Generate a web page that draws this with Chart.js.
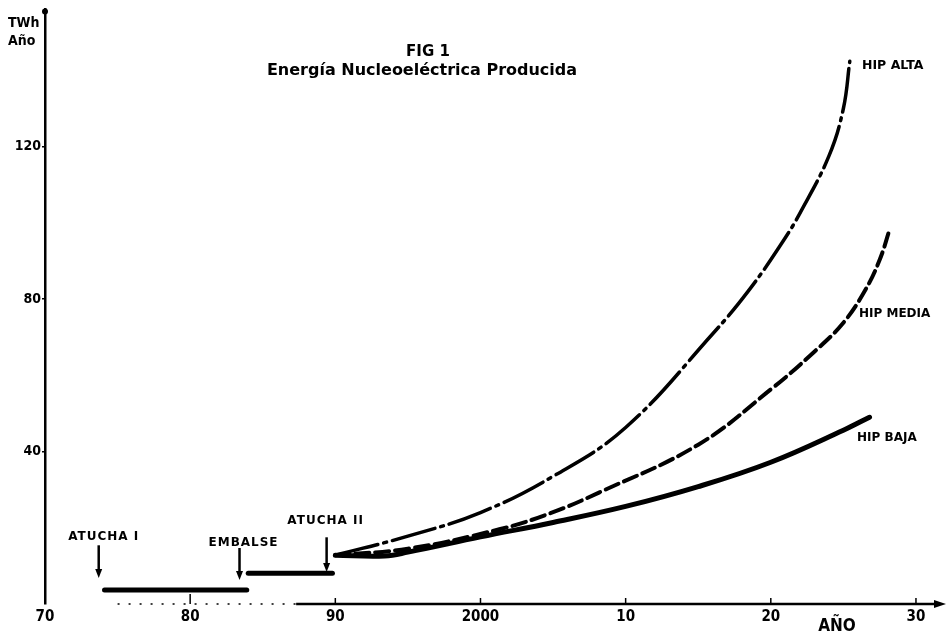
<!DOCTYPE html>
<html>
<head>
<meta charset="utf-8">
<script src="https://cdn.jsdelivr.net/npm/chart.js@4"></script>
<style>
  html, body { margin: 0; padding: 0; background: #fff; }
  #wrap { position: relative; width: 946px; height: 640px; }
</style>
</head>
<body>
<div id="wrap"><canvas id="fig1"></canvas></div>
<script>
// años (eje x) y TWh/año (eje y)
const altaYears  = [1990, 1995, 2000, 2005, 2010, 2016, 2018.55, 2020.83, 2022, 2024, 2025, 2025.44];
const altaTWh    = [12.8, 17.8, 24.0, 33.5, 46.3, 70.9, 82.6, 95.1, 102.5, 117.5, 130.0, 142.4];
const mediaYears = [1990, 1995, 2001.3, 2004.8, 2008.2, 2015, 2020, 2023, 2025, 2026.5, 2027.5, 2028.2];
const mediaTWh   = [12.8, 14.5, 19.6, 23.8, 29.3, 41.8, 56.3, 66.2, 73.8, 82.3, 90.3, 98.4];
const bajaYears  = [1990, 1993.4, 1995, 2000, 2005, 2010, 2015, 2020, 2025, 2026.8];
const bajaTWh    = [12.8, 12.6, 13.6, 17.6, 21.4, 25.6, 30.8, 37.2, 45.6, 49.0];

// tramos de centrales existentes
const atucha1Years = [1974.1, 1983.9];
const atucha1TWh   = [3.7, 3.7];
const embalseYears = [1984.0, 1989.8];
const embalseTWh   = [8.1, 8.1];

// flechas de entrada en servicio
const arrowLabels = ['ATUCHA I', 'EMBALSE', 'ATUCHA II'];
const arrowYears  = [1973.7, 1983.4, 1989.4];
const arrowTop    = [15.4, 14.7, 17.5];
const arrowTip    = [6.8, 6.3, 8.4];

const xTicks = [1970, 1980, 1990, 2000, 2010, 2020, 2030];
const xTickLabels = ['70', '80', '90', '2000', '10', '20', '30'];
const yTicks = [40, 80, 120];

const curveLabels = ['HIP ALTA', 'HIP MEDIA', 'HIP BAJA'];

const COND = '"DejaVu Sans Condensed", "DejaVu Sans", sans-serif';
const WIDE = '"DejaVu Sans", sans-serif';

function pts(xs, ys) {
    return xs.map((x, i) => ({ x: x, y: ys[i] }));
}

// ejes, textos y flechas dibujados sobre el gráfico
const annotations = {
    id: 'annotations',
    afterDraw(chart) {
        const ctx = chart.ctx;
        const xs = chart.scales.x;
        const ys = chart.scales.y;
        const area = chart.chartArea;
        const y0 = area.bottom;
        ctx.save();
        ctx.fillStyle = '#000';
        ctx.strokeStyle = '#000';

        // eje x: tramo punteado al principio, luego continuo
        ctx.lineWidth = 1.5;
        ctx.setLineDash([2, 9]);
        ctx.beginPath();
        ctx.moveTo(xs.getPixelForValue(1975), y0);
        ctx.lineTo(xs.getPixelForValue(1987.5), y0);
        ctx.stroke();
        ctx.setLineDash([]);
        ctx.lineWidth = 2.5;
        ctx.beginPath();
        ctx.moveTo(xs.getPixelForValue(1987.3), y0);
        ctx.lineTo(area.right - 6, y0);
        ctx.stroke();
        ctx.beginPath();
        ctx.moveTo(area.right + 1, y0);
        ctx.lineTo(area.right - 11, y0 - 4);
        ctx.lineTo(area.right - 11, y0 + 4);
        ctx.closePath();
        ctx.fill();
        // marcas de las décadas hacia arriba
        ctx.lineWidth = 1.5;
        xTicks.slice(1).forEach(v => {
            const px = xs.getPixelForValue(v);
            ctx.beginPath();
            ctx.moveTo(px, y0);
            ctx.lineTo(px, y0 - (v === 1980 ? 10 : 6));
            ctx.stroke();
        });
        // punta del eje y
        ctx.beginPath();
        ctx.arc(area.left, area.top + 2, 3, 0, Math.PI * 2);
        ctx.fill();

        // flechas
        ctx.lineWidth = 2.5;
        arrowYears.forEach((yr, i) => {
            const px = xs.getPixelForValue(yr);
            const top = ys.getPixelForValue(arrowTop[i]);
            const tip = ys.getPixelForValue(arrowTip[i]);
            ctx.beginPath();
            ctx.moveTo(px, top);
            ctx.lineTo(px, tip - 6);
            ctx.stroke();
            ctx.beginPath();
            ctx.moveTo(px, tip);
            ctx.lineTo(px - 3.5, tip - 9);
            ctx.lineTo(px + 3.5, tip - 9);
            ctx.closePath();
            ctx.fill();
        });
        ctx.font = 'bold 12px ' + WIDE;
        ctx.letterSpacing = '1px';
        ctx.textAlign = 'center';
        ctx.textBaseline = 'bottom';
        ctx.fillText(arrowLabels[0], xs.getPixelForValue(arrowYears[0]) + 5, ys.getPixelForValue(arrowTop[0]) - 2);
        ctx.fillText(arrowLabels[1], xs.getPixelForValue(arrowYears[1]) + 4, ys.getPixelForValue(arrowTop[1]) + 1);
        ctx.fillText(arrowLabels[2], xs.getPixelForValue(arrowYears[2]) - 1, ys.getPixelForValue(arrowTop[2]) - 10);
        ctx.letterSpacing = '0px';

        // nombres de las curvas
        ctx.textAlign = 'left';
        ctx.textBaseline = 'middle';
        ctx.font = 'bold 12.5px ' + WIDE;
        ctx.fillText(curveLabels[0], 862, 66);
        ctx.font = 'bold 12px ' + WIDE;
        ctx.fillText(curveLabels[1], 859, 314);
        ctx.fillText(curveLabels[2], 857, 438);

        // título
        ctx.textAlign = 'center';
        ctx.font = 'bold 15px ' + WIDE;
        ctx.fillText('FIG 1', 428, 52);
        ctx.font = 'bold 16px ' + WIDE;
        ctx.fillText('Energía Nucleoeléctrica Producida', 422, 71);

        // unidades
        ctx.textAlign = 'left';
        ctx.font = 'bold 14px ' + COND;
        ctx.fillText('TWh', 8, 23);
        ctx.fillText('Año', 8, 41);

        // etiqueta del eje x
        ctx.textAlign = 'center';
        ctx.font = 'bold 17px ' + COND;
        ctx.fillText('AÑO', 837, 627);
        ctx.restore();
    }
};

const ctx = document.getElementById('fig1').getContext('2d');
new Chart(ctx, {
    type: 'line',
    data: {
        datasets: [{
            label: 'HIP ALTA',
            data: pts(altaYears, altaTWh),
            borderColor: '#000',
            borderWidth: 3.5,
            borderDash: [44, 6, 3, 6],
            tension: 0.4
        }, {
            label: 'HIP MEDIA',
            data: pts(mediaYears, mediaTWh),
            borderColor: '#000',
            borderWidth: 4,
            borderDash: [14, 6],
            tension: 0.4
        }, {
            label: 'HIP BAJA',
            data: pts(bajaYears, bajaTWh),
            borderColor: '#000',
            borderWidth: 5,
            tension: 0.4
        }, {
            label: 'ATUCHA I',
            data: pts(atucha1Years, atucha1TWh),
            borderColor: '#000',
            borderWidth: 5
        }, {
            label: 'EMBALSE',
            data: pts(embalseYears, embalseTWh),
            borderColor: '#000',
            borderWidth: 5
        }]
    },
    options: {
        responsive: true,
        maintainAspectRatio: false,
        animation: false,
        events: [],
        elements: {
            point: { radius: 0 },
            line: { borderCapStyle: 'round' }
        },
        layout: { padding: { top: 8, right: 1, left: 0, bottom: 0 } },
        plugins: {
            legend: { display: false },
            tooltip: { enabled: false }
        },
        scales: {
            x: {
                type: 'linear',
                min: 1970,
                max: 2032,
                afterBuildTicks: (s) => { s.ticks = xTicks.map(v => ({ value: v })); },
                afterFit: (s) => { s.height = 36; },
                border: { display: false },
                grid: { display: false, drawTicks: false },
                ticks: {
                    color: '#000',
                    padding: 4,
                    font: { family: COND, size: 15, weight: 'bold' },
                    callback: (v) => {
                        const i = xTicks.indexOf(v);
                        return i >= 0 ? xTickLabels[i] : '';
                    }
                }
            },
            y: {
                type: 'linear',
                min: 0,
                max: 156,
                afterBuildTicks: (s) => { s.ticks = yTicks.map(v => ({ value: v })); },
                afterFit: (s) => { s.width = 45; },
                border: { display: true, color: '#000', width: 2.5 },
                grid: { drawOnChartArea: false, color: '#000', tickLength: 3, lineWidth: 1.5 },
                ticks: {
                    color: '#000',
                    padding: 1,
                    font: { family: COND, size: 14, weight: 'bold' }
                }
            }
        }
    },
    plugins: [annotations]
});
</script>
</body>
</html>
